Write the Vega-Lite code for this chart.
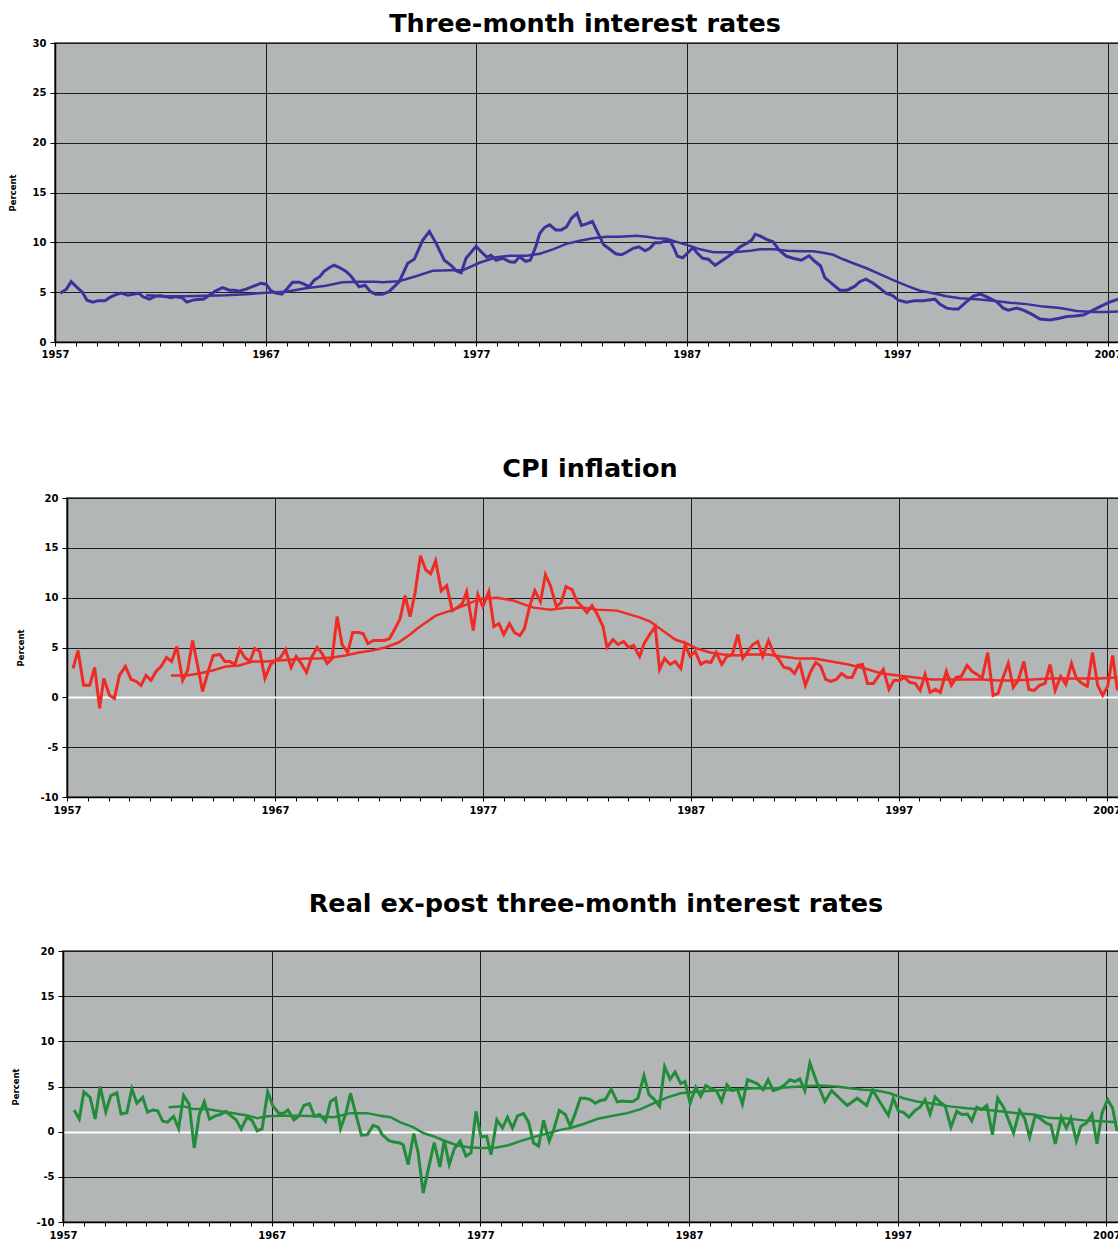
{
  "$schema": "https://vega.github.io/schema/vega-lite/v6.json",
  "background": "white",
  "padding": {"left": 0, "top": 10, "right": 0, "bottom": 0},
  "spacing": 50,
  "config": {
    "view": {"fill": "#b3b6b7", "stroke": "#6e6e6e", "strokeWidth": 2},
    "axis": {
      "labelFont": "DejaVu Sans", "labelFontWeight": "bold", "labelFontSize": 10, "labelColor": "#000",
      "titleFont": "DejaVu Sans", "titleFontWeight": "bold", "titleFontSize": 8.5, "titleColor": "#000",
      "domainColor": "#000", "domainWidth": 1.5, "tickColor": "#000", "tickWidth": 1,
      "gridColor": "#1c1c1c", "gridOpacity": 1, "gridWidth": 1
    },
    "title": {"font": "DejaVu Sans", "fontWeight": "bold", "fontSize": 25.5, "color": "#000", "anchor": "middle", "frame": "group", "baseline": "alphabetic"}
  },
  "datasets": {
    "rate_raw": [
      {"year":1957.25,"value":4.9},{"year":1957.54,"value":5.3},{"year":1957.77,"value":6.05},{"year":1958.01,"value":5.55},{"year":1958.3,"value":5.0},{"year":1958.52,"value":4.2},{"year":1958.8,"value":4.0},{"year":1959.05,"value":4.15},{"year":1959.37,"value":4.15},{"year":1959.59,"value":4.45},{"year":1959.83,"value":4.7},{"year":1960.14,"value":4.9},{"year":1960.46,"value":4.7},{"year":1960.7,"value":4.8},{"year":1960.98,"value":4.9},{"year":1961.17,"value":4.55},{"year":1961.49,"value":4.3},{"year":1961.72,"value":4.55},{"year":1961.96,"value":4.65},{"year":1962.28,"value":4.55},{"year":1962.51,"value":4.45},{"year":1962.75,"value":4.55},{"year":1963.03,"value":4.45},{"year":1963.26,"value":4.0},{"year":1963.54,"value":4.2},{"year":1963.86,"value":4.3},{"year":1964.05,"value":4.3},{"year":1964.33,"value":4.7},{"year":1964.61,"value":5.1},{"year":1964.96,"value":5.45},{"year":1965.28,"value":5.2},{"year":1965.52,"value":5.2},{"year":1965.75,"value":5.1},{"year":1966.07,"value":5.3},{"year":1966.38,"value":5.55},{"year":1966.78,"value":5.9},{"year":1967.02,"value":5.8},{"year":1967.25,"value":5.15},{"year":1967.49,"value":4.9},{"year":1967.77,"value":4.8},{"year":1968.04,"value":5.4},{"year":1968.28,"value":6.0},{"year":1968.6,"value":6.0},{"year":1968.83,"value":5.8},{"year":1969.07,"value":5.55},{"year":1969.31,"value":6.2},{"year":1969.57,"value":6.55},{"year":1969.78,"value":7.1},{"year":1970.02,"value":7.45},{"year":1970.25,"value":7.7},{"year":1970.49,"value":7.5},{"year":1970.81,"value":7.1},{"year":1971.04,"value":6.65},{"year":1971.25,"value":6.05},{"year":1971.44,"value":5.55},{"year":1971.72,"value":5.7},{"year":1971.99,"value":5.05},{"year":1972.23,"value":4.8},{"year":1972.55,"value":4.8},{"year":1972.86,"value":5.05},{"year":1973.18,"value":5.7},{"year":1973.35,"value":6.05},{"year":1973.75,"value":7.9},{"year":1974.06,"value":8.3},{"year":1974.46,"value":10.2},{"year":1974.78,"value":11.1},{"year":1975.1,"value":9.9},{"year":1975.49,"value":8.2},{"year":1975.81,"value":7.7},{"year":1976.05,"value":7.15},{"year":1976.29,"value":6.95},{"year":1976.52,"value":8.4},{"year":1977.0,"value":9.6},{"year":1977.24,"value":9.05},{"year":1977.51,"value":8.5},{"year":1977.71,"value":8.7},{"year":1977.95,"value":8.2},{"year":1978.27,"value":8.4},{"year":1978.59,"value":8.05},{"year":1978.83,"value":8.0},{"year":1979.06,"value":8.55},{"year":1979.35,"value":8.1},{"year":1979.57,"value":8.2},{"year":1979.83,"value":9.55},{"year":1980.02,"value":10.9},{"year":1980.25,"value":11.5},{"year":1980.49,"value":11.75},{"year":1980.78,"value":11.25},{"year":1981.05,"value":11.25},{"year":1981.29,"value":11.55},{"year":1981.52,"value":12.4},{"year":1981.79,"value":12.9},{"year":1982.0,"value":11.7},{"year":1982.24,"value":11.85},{"year":1982.52,"value":12.1},{"year":1982.79,"value":10.9},{"year":1983.06,"value":9.75},{"year":1983.35,"value":9.3},{"year":1983.63,"value":8.85},{"year":1983.9,"value":8.75},{"year":1984.14,"value":9.0},{"year":1984.46,"value":9.4},{"year":1984.73,"value":9.55},{"year":1985.02,"value":9.15},{"year":1985.25,"value":9.4},{"year":1985.49,"value":9.95},{"year":1985.73,"value":9.95},{"year":1986.0,"value":10.15},{"year":1986.24,"value":10.05},{"year":1986.4,"value":9.4},{"year":1986.56,"value":8.6},{"year":1986.81,"value":8.45},{"year":1987.03,"value":8.9},{"year":1987.29,"value":9.45},{"year":1987.51,"value":8.9},{"year":1987.76,"value":8.4},{"year":1988.03,"value":8.3},{"year":1988.35,"value":7.7},{"year":1988.67,"value":8.15},{"year":1988.98,"value":8.6},{"year":1989.3,"value":9.1},{"year":1989.54,"value":9.55},{"year":1989.86,"value":9.9},{"year":1990.1,"value":10.25},{"year":1990.25,"value":10.8},{"year":1990.47,"value":10.65},{"year":1990.79,"value":10.3},{"year":1991.1,"value":10.05},{"year":1991.42,"value":9.15},{"year":1991.74,"value":8.6},{"year":1992.05,"value":8.4},{"year":1992.45,"value":8.2},{"year":1992.81,"value":8.65},{"year":1993.08,"value":8.1},{"year":1993.35,"value":7.65},{"year":1993.56,"value":6.45},{"year":1993.87,"value":5.9},{"year":1994.27,"value":5.2},{"year":1994.62,"value":5.2},{"year":1994.99,"value":5.6},{"year":1995.22,"value":6.05},{"year":1995.51,"value":6.3},{"year":1995.86,"value":5.9},{"year":1996.17,"value":5.4},{"year":1996.46,"value":4.9},{"year":1996.78,"value":4.65},{"year":1997.05,"value":4.2},{"year":1997.44,"value":4.0},{"year":1997.84,"value":4.15},{"year":1998.23,"value":4.15},{"year":1998.79,"value":4.3},{"year":1999.02,"value":3.8},{"year":1999.34,"value":3.4},{"year":1999.66,"value":3.3},{"year":1999.9,"value":3.3},{"year":2000.21,"value":3.9},{"year":2000.61,"value":4.6},{"year":2000.96,"value":4.8},{"year":2001.32,"value":4.45},{"year":2001.72,"value":4.05},{"year":2002.03,"value":3.4},{"year":2002.27,"value":3.2},{"year":2002.67,"value":3.4},{"year":2002.99,"value":3.2},{"year":2003.38,"value":2.8},{"year":2003.78,"value":2.3},{"year":2004.25,"value":2.2},{"year":2004.65,"value":2.35},{"year":2005.05,"value":2.55},{"year":2005.44,"value":2.6},{"year":2005.84,"value":2.7},{"year":2006.16,"value":3.05},{"year":2006.63,"value":3.55},{"year":2007.03,"value":3.95},{"year":2007.49,"value":4.3},{"year":2007.75,"value":4.6}
    ],
    "rate_trend": [
      {"year":1961.33,"value":4.7},{"year":1962.28,"value":4.6},{"year":1963.22,"value":4.6},{"year":1964.17,"value":4.65},{"year":1965.12,"value":4.7},{"year":1966.07,"value":4.8},{"year":1967.02,"value":4.95},{"year":1967.96,"value":5.05},{"year":1968.91,"value":5.4},{"year":1969.86,"value":5.65},{"year":1970.65,"value":6.0},{"year":1971.44,"value":6.05},{"year":1972.23,"value":6.05},{"year":1972.55,"value":6.0},{"year":1973.34,"value":6.1},{"year":1974.14,"value":6.6},{"year":1974.94,"value":7.15},{"year":1975.73,"value":7.2},{"year":1976.37,"value":7.2},{"year":1977.16,"value":7.95},{"year":1977.95,"value":8.5},{"year":1978.59,"value":8.65},{"year":1979.38,"value":8.65},{"year":1980.02,"value":8.85},{"year":1980.65,"value":9.3},{"year":1981.29,"value":9.85},{"year":1981.92,"value":10.15},{"year":1982.56,"value":10.4},{"year":1983.19,"value":10.55},{"year":1983.83,"value":10.55},{"year":1984.62,"value":10.65},{"year":1985.1,"value":10.55},{"year":1985.57,"value":10.4},{"year":1986.05,"value":10.35},{"year":1986.52,"value":10.05},{"year":1987.0,"value":9.75},{"year":1987.63,"value":9.3},{"year":1988.27,"value":9.0},{"year":1989.22,"value":9.0},{"year":1990.02,"value":9.15},{"year":1990.49,"value":9.3},{"year":1991.13,"value":9.3},{"year":1991.76,"value":9.15},{"year":1992.4,"value":9.1},{"year":1993.01,"value":9.1},{"year":1993.48,"value":8.95},{"year":1993.96,"value":8.75},{"year":1994.43,"value":8.3},{"year":1994.91,"value":7.9},{"year":1995.54,"value":7.4},{"year":1996.17,"value":6.8},{"year":1996.81,"value":6.2},{"year":1997.44,"value":5.65},{"year":1998.08,"value":5.15},{"year":1998.71,"value":4.9},{"year":1999.34,"value":4.6},{"year":1999.98,"value":4.4},{"year":2000.77,"value":4.3},{"year":2001.56,"value":4.15},{"year":2002.35,"value":3.95},{"year":2003.15,"value":3.8},{"year":2003.94,"value":3.55},{"year":2004.73,"value":3.4},{"year":2005.52,"value":3.1},{"year":2006.31,"value":3.0},{"year":2006.95,"value":3.0},{"year":2007.49,"value":3.05},{"year":2007.75,"value":3.05}
    ],
    "cpi_raw": [
      {"year":1957.29,"value":2.9},{"year":1957.53,"value":4.7},{"year":1957.8,"value":1.2},{"year":1958.09,"value":1.2},{"year":1958.33,"value":3.0},{"year":1958.57,"value":-1.1},{"year":1958.77,"value":1.9},{"year":1959.04,"value":0.2},{"year":1959.28,"value":-0.1},{"year":1959.52,"value":2.2},{"year":1959.81,"value":3.1},{"year":1960.08,"value":1.8},{"year":1960.32,"value":1.6},{"year":1960.56,"value":1.2},{"year":1960.8,"value":2.2},{"year":1961.04,"value":1.7},{"year":1961.28,"value":2.6},{"year":1961.52,"value":3.1},{"year":1961.79,"value":4.0},{"year":1962.03,"value":3.6},{"year":1962.28,"value":5.1},{"year":1962.56,"value":1.7},{"year":1962.8,"value":2.7},{"year":1963.04,"value":5.7},{"year":1963.28,"value":3.2},{"year":1963.52,"value":0.6},{"year":1963.79,"value":2.6},{"year":1964.03,"value":4.2},{"year":1964.35,"value":4.3},{"year":1964.59,"value":3.6},{"year":1964.83,"value":3.6},{"year":1965.07,"value":3.3},{"year":1965.31,"value":4.8},{"year":1965.55,"value":4.0},{"year":1965.79,"value":3.6},{"year":1966.03,"value":4.9},{"year":1966.27,"value":4.6},{"year":1966.52,"value":1.9},{"year":1966.79,"value":3.3},{"year":1967.03,"value":3.7},{"year":1967.27,"value":4.0},{"year":1967.51,"value":4.8},{"year":1967.78,"value":3.0},{"year":1968.02,"value":4.1},{"year":1968.26,"value":3.4},{"year":1968.52,"value":2.5},{"year":1968.76,"value":4.0},{"year":1969.03,"value":5.0},{"year":1969.27,"value":4.4},{"year":1969.51,"value":3.4},{"year":1969.75,"value":3.9},{"year":1969.99,"value":8.1},{"year":1970.23,"value":5.3},{"year":1970.5,"value":4.5},{"year":1970.74,"value":6.5},{"year":1971.0,"value":6.5},{"year":1971.24,"value":6.4},{"year":1971.47,"value":5.4},{"year":1971.74,"value":5.7},{"year":1971.98,"value":5.7},{"year":1972.26,"value":5.7},{"year":1972.51,"value":5.9},{"year":1972.78,"value":6.9},{"year":1973.02,"value":7.9},{"year":1973.26,"value":10.2},{"year":1973.5,"value":8.1},{"year":1973.74,"value":10.5},{"year":1974.0,"value":14.2},{"year":1974.25,"value":12.8},{"year":1974.49,"value":12.4},{"year":1974.73,"value":13.7},{"year":1975.0,"value":10.7},{"year":1975.26,"value":11.2},{"year":1975.53,"value":8.7},{"year":1975.77,"value":9.0},{"year":1976.01,"value":9.4},{"year":1976.22,"value":10.6},{"year":1976.54,"value":6.7},{"year":1976.76,"value":10.3},{"year":1977.0,"value":9.1},{"year":1977.29,"value":10.6},{"year":1977.53,"value":7.1},{"year":1977.77,"value":7.4},{"year":1978.01,"value":6.3},{"year":1978.28,"value":7.4},{"year":1978.52,"value":6.5},{"year":1978.78,"value":6.2},{"year":1979.0,"value":6.9},{"year":1979.26,"value":9.2},{"year":1979.5,"value":10.7},{"year":1979.77,"value":9.6},{"year":1980.01,"value":12.3},{"year":1980.25,"value":11.2},{"year":1980.54,"value":9.1},{"year":1980.76,"value":9.5},{"year":1981.0,"value":11.1},{"year":1981.29,"value":10.8},{"year":1981.53,"value":9.6},{"year":1981.77,"value":9.1},{"year":1982.0,"value":8.5},{"year":1982.25,"value":9.2},{"year":1982.49,"value":8.4},{"year":1982.78,"value":7.1},{"year":1982.97,"value":5.0},{"year":1983.26,"value":5.8},{"year":1983.5,"value":5.3},{"year":1983.77,"value":5.6},{"year":1984.01,"value":5.0},{"year":1984.25,"value":5.2},{"year":1984.54,"value":4.1},{"year":1984.76,"value":5.4},{"year":1985.02,"value":6.3},{"year":1985.29,"value":7.1},{"year":1985.5,"value":2.8},{"year":1985.74,"value":3.9},{"year":1986.01,"value":3.3},{"year":1986.25,"value":3.6},{"year":1986.52,"value":2.9},{"year":1986.73,"value":5.3},{"year":1986.97,"value":4.1},{"year":1987.21,"value":4.6},{"year":1987.48,"value":3.3},{"year":1987.72,"value":3.6},{"year":1987.96,"value":3.5},{"year":1988.22,"value":4.5},{"year":1988.49,"value":3.3},{"year":1988.73,"value":4.1},{"year":1989.0,"value":4.3},{"year":1989.26,"value":6.3},{"year":1989.5,"value":3.9},{"year":1989.74,"value":4.6},{"year":1989.98,"value":5.3},{"year":1990.22,"value":5.6},{"year":1990.46,"value":4.1},{"year":1990.74,"value":5.7},{"year":1991.0,"value":4.4},{"year":1991.24,"value":3.8},{"year":1991.48,"value":3.0},{"year":1991.75,"value":2.9},{"year":1991.99,"value":2.4},{"year":1992.24,"value":3.4},{"year":1992.51,"value":1.2},{"year":1992.77,"value":2.6},{"year":1993.01,"value":3.5},{"year":1993.25,"value":3.1},{"year":1993.49,"value":1.8},{"year":1993.73,"value":1.6},{"year":1994.0,"value":1.8},{"year":1994.25,"value":2.4},{"year":1994.52,"value":2.0},{"year":1994.76,"value":2.0},{"year":1995.02,"value":3.2},{"year":1995.26,"value":3.3},{"year":1995.5,"value":1.4},{"year":1995.78,"value":1.4},{"year":1996.02,"value":2.1},{"year":1996.26,"value":2.8},{"year":1996.53,"value":0.8},{"year":1996.77,"value":1.7},{"year":1997.03,"value":1.7},{"year":1997.27,"value":2.0},{"year":1997.53,"value":1.5},{"year":1997.79,"value":1.4},{"year":1998.03,"value":0.7},{"year":1998.27,"value":2.3},{"year":1998.51,"value":0.5},{"year":1998.76,"value":0.8},{"year":1999.0,"value":0.5},{"year":1999.29,"value":2.6},{"year":1999.53,"value":1.2},{"year":1999.77,"value":2.0},{"year":2000.01,"value":2.1},{"year":2000.29,"value":3.2},{"year":2000.53,"value":2.6},{"year":2000.77,"value":2.3},{"year":2001.01,"value":1.9},{"year":2001.28,"value":4.5},{"year":2001.54,"value":0.2},{"year":2001.78,"value":0.4},{"year":2002.02,"value":2.0},{"year":2002.27,"value":3.4},{"year":2002.51,"value":1.0},{"year":2002.75,"value":1.7},{"year":2003.02,"value":3.6},{"year":2003.26,"value":0.8},{"year":2003.51,"value":0.7},{"year":2003.78,"value":1.2},{"year":2004.04,"value":1.4},{"year":2004.28,"value":3.3},{"year":2004.52,"value":0.7},{"year":2004.79,"value":2.1},{"year":2005.04,"value":1.3},{"year":2005.31,"value":3.4},{"year":2005.55,"value":1.9},{"year":2005.81,"value":1.4},{"year":2006.07,"value":1.1},{"year":2006.32,"value":4.5},{"year":2006.57,"value":1.2},{"year":2006.81,"value":0.2},{"year":2007.05,"value":1.1},{"year":2007.29,"value":4.2},{"year":2007.52,"value":0.7}
    ],
    "cpi_trend": [
      {"year":1962.0,"value":2.2},{"year":1962.72,"value":2.2},{"year":1963.36,"value":2.4},{"year":1964.0,"value":2.7},{"year":1964.64,"value":3.1},{"year":1965.27,"value":3.2},{"year":1965.91,"value":3.6},{"year":1966.55,"value":3.6},{"year":1967.19,"value":3.7},{"year":1967.83,"value":3.8},{"year":1968.47,"value":3.9},{"year":1969.1,"value":3.9},{"year":1969.75,"value":4.0},{"year":1970.39,"value":4.2},{"year":1971.03,"value":4.5},{"year":1971.66,"value":4.7},{"year":1972.3,"value":5.0},{"year":1972.94,"value":5.5},{"year":1973.5,"value":6.3},{"year":1973.85,"value":6.9},{"year":1974.73,"value":8.2},{"year":1975.45,"value":8.7},{"year":1976.09,"value":9.2},{"year":1976.89,"value":9.9},{"year":1977.69,"value":10.0},{"year":1978.49,"value":9.7},{"year":1979.0,"value":9.3},{"year":1979.45,"value":9.0},{"year":1980.25,"value":8.8},{"year":1981.05,"value":9.0},{"year":1981.85,"value":9.0},{"year":1982.49,"value":8.8},{"year":1983.45,"value":8.7},{"year":1984.09,"value":8.3},{"year":1984.57,"value":8.0},{"year":1985.05,"value":7.6},{"year":1985.37,"value":7.1},{"year":1985.85,"value":6.4},{"year":1986.25,"value":5.8},{"year":1986.81,"value":5.4},{"year":1987.29,"value":4.9},{"year":1987.93,"value":4.5},{"year":1988.57,"value":4.3},{"year":1989.21,"value":4.2},{"year":1989.85,"value":4.3},{"year":1990.71,"value":4.3},{"year":1991.35,"value":4.1},{"year":1992.15,"value":3.9},{"year":1992.96,"value":3.9},{"year":1993.76,"value":3.6},{"year":1994.57,"value":3.3},{"year":1995.37,"value":2.9},{"year":1996.18,"value":2.4},{"year":1996.98,"value":2.2},{"year":1997.79,"value":2.0},{"year":1998.59,"value":1.8},{"year":1999.4,"value":1.8},{"year":2000.2,"value":1.8},{"year":2001.01,"value":1.8},{"year":2001.81,"value":1.7},{"year":2002.62,"value":1.7},{"year":2003.42,"value":1.8},{"year":2004.23,"value":1.9},{"year":2005.04,"value":1.9},{"year":2005.84,"value":1.9},{"year":2006.65,"value":1.9},{"year":2007.52,"value":2.0}
    ],
    "real_raw": [
      {"year":1957.53,"value":2.4},{"year":1957.78,"value":1.4},{"year":1958.0,"value":4.4},{"year":1958.3,"value":3.8},{"year":1958.54,"value":1.4},{"year":1958.78,"value":5.0},{"year":1959.05,"value":2.2},{"year":1959.29,"value":4.0},{"year":1959.58,"value":4.3},{"year":1959.78,"value":1.95},{"year":1960.06,"value":2.1},{"year":1960.3,"value":4.75},{"year":1960.54,"value":3.15},{"year":1960.82,"value":3.8},{"year":1961.05,"value":2.15},{"year":1961.3,"value":2.4},{"year":1961.54,"value":2.3},{"year":1961.78,"value":1.15},{"year":1962.02,"value":1.05},{"year":1962.3,"value":1.7},{"year":1962.54,"value":0.35},{"year":1962.78,"value":4.0},{"year":1963.05,"value":3.0},{"year":1963.29,"value":-1.8},{"year":1963.53,"value":1.9},{"year":1963.77,"value":3.3},{"year":1964.02,"value":1.4},{"year":1964.3,"value":1.75},{"year":1964.54,"value":1.9},{"year":1964.8,"value":2.25},{"year":1965.05,"value":1.75},{"year":1965.3,"value":1.3},{"year":1965.54,"value":0.3},{"year":1965.82,"value":1.6},{"year":1966.06,"value":1.25},{"year":1966.3,"value":0.1},{"year":1966.54,"value":0.3},{"year":1966.81,"value":4.4},{"year":1967.06,"value":2.85},{"year":1967.34,"value":2.05},{"year":1967.58,"value":2.05},{"year":1967.78,"value":2.4},{"year":1968.06,"value":1.3},{"year":1968.3,"value":1.7},{"year":1968.54,"value":2.9},{"year":1968.81,"value":3.1},{"year":1969.05,"value":1.7},{"year":1969.3,"value":1.9},{"year":1969.58,"value":1.15},{"year":1969.82,"value":3.35},{"year":1970.06,"value":3.7},{"year":1970.3,"value":0.35},{"year":1970.54,"value":1.9},{"year":1970.78,"value":4.25},{"year":1971.02,"value":2.05},{"year":1971.3,"value":-0.4},{"year":1971.58,"value":-0.35},{"year":1971.86,"value":0.7},{"year":1972.1,"value":0.5},{"year":1972.3,"value":-0.35},{"year":1972.62,"value":-1.0},{"year":1972.86,"value":-1.15},{"year":1973.14,"value":-1.25},{"year":1973.3,"value":-1.45},{"year":1973.54,"value":-3.65},{"year":1973.81,"value":-0.2},{"year":1974.02,"value":-2.35},{"year":1974.26,"value":-6.8},{"year":1974.5,"value":-4.2},{"year":1974.79,"value":-1.2},{"year":1975.06,"value":-3.9},{"year":1975.27,"value":-0.95},{"year":1975.51,"value":-3.65},{"year":1975.75,"value":-1.9},{"year":1976.03,"value":-1.05},{"year":1976.31,"value":-2.7},{"year":1976.55,"value":-2.35},{"year":1976.79,"value":2.25},{"year":1977.03,"value":-0.6},{"year":1977.3,"value":-0.5},{"year":1977.51,"value":-2.55},{"year":1977.79,"value":1.3},{"year":1978.06,"value":0.4},{"year":1978.3,"value":1.6},{"year":1978.54,"value":0.4},{"year":1978.78,"value":1.75},{"year":1979.07,"value":2.0},{"year":1979.31,"value":1.05},{"year":1979.55,"value":-1.25},{"year":1979.79,"value":-1.6},{"year":1980.03,"value":1.25},{"year":1980.3,"value":-1.05},{"year":1980.54,"value":0.4},{"year":1980.78,"value":2.35},{"year":1981.07,"value":1.9},{"year":1981.31,"value":0.6},{"year":1981.55,"value":2.05},{"year":1981.79,"value":3.7},{"year":1982.03,"value":3.7},{"year":1982.27,"value":3.55},{"year":1982.51,"value":3.15},{"year":1982.75,"value":3.45},{"year":1982.99,"value":3.55},{"year":1983.27,"value":4.7},{"year":1983.56,"value":3.3},{"year":1983.79,"value":3.4},{"year":1984.04,"value":3.35},{"year":1984.31,"value":3.35},{"year":1984.55,"value":3.7},{"year":1984.84,"value":6.2},{"year":1985.08,"value":4.1},{"year":1985.32,"value":3.6},{"year":1985.59,"value":2.8},{"year":1985.83,"value":7.2},{"year":1986.09,"value":5.8},{"year":1986.33,"value":6.6},{"year":1986.6,"value":5.35},{"year":1986.81,"value":5.55},{"year":1987.05,"value":3.15},{"year":1987.32,"value":4.9},{"year":1987.56,"value":3.9},{"year":1987.8,"value":5.1},{"year":1988.04,"value":4.8},{"year":1988.31,"value":4.55},{"year":1988.56,"value":3.35},{"year":1988.81,"value":5.2},{"year":1989.05,"value":4.55},{"year":1989.32,"value":4.7},{"year":1989.56,"value":3.05},{"year":1989.8,"value":5.75},{"year":1990.04,"value":5.55},{"year":1990.28,"value":5.3},{"year":1990.55,"value":4.65},{"year":1990.79,"value":5.75},{"year":1991.03,"value":4.55},{"year":1991.35,"value":4.8},{"year":1991.59,"value":5.2},{"year":1991.83,"value":5.75},{"year":1992.07,"value":5.55},{"year":1992.31,"value":5.85},{"year":1992.55,"value":4.55},{"year":1992.79,"value":7.6},{"year":1993.11,"value":5.55},{"year":1993.51,"value":3.35},{"year":1993.83,"value":4.55},{"year":1994.23,"value":3.65},{"year":1994.58,"value":2.9},{"year":1995.06,"value":3.7},{"year":1995.51,"value":2.9},{"year":1995.8,"value":4.65},{"year":1996.15,"value":3.25},{"year":1996.55,"value":1.8},{"year":1996.79,"value":3.7},{"year":1997.03,"value":2.3},{"year":1997.27,"value":2.15},{"year":1997.54,"value":1.6},{"year":1997.83,"value":2.35},{"year":1998.07,"value":2.7},{"year":1998.31,"value":3.55},{"year":1998.55,"value":1.95},{"year":1998.79,"value":3.85},{"year":1999.03,"value":3.25},{"year":1999.27,"value":2.85},{"year":1999.55,"value":0.5},{"year":1999.83,"value":2.25},{"year":2000.07,"value":1.9},{"year":2000.34,"value":1.95},{"year":2000.55,"value":1.2},{"year":2000.79,"value":2.7},{"year":2001.03,"value":2.45},{"year":2001.27,"value":2.9},{"year":2001.54,"value":-0.35},{"year":2001.79,"value":3.7},{"year":2002.07,"value":2.7},{"year":2002.31,"value":1.3},{"year":2002.55,"value":-0.15},{"year":2002.84,"value":2.35},{"year":2003.08,"value":1.5},{"year":2003.32,"value":-0.6},{"year":2003.59,"value":1.8},{"year":2003.86,"value":1.4},{"year":2004.12,"value":0.95},{"year":2004.34,"value":0.75},{"year":2004.55,"value":-1.35},{"year":2004.84,"value":1.6},{"year":2005.08,"value":0.4},{"year":2005.3,"value":1.5},{"year":2005.56,"value":-1.05},{"year":2005.78,"value":0.6},{"year":2006.04,"value":0.95},{"year":2006.31,"value":1.9},{"year":2006.55,"value":-1.35},{"year":2006.79,"value":2.05},{"year":2007.06,"value":3.55},{"year":2007.3,"value":2.6},{"year":2007.51,"value":0.05}
    ],
    "real_trend": [
      {"year":1962.06,"value":2.7},{"year":1962.78,"value":2.8},{"year":1963.26,"value":2.5},{"year":1963.9,"value":2.5},{"year":1964.54,"value":2.25},{"year":1965.18,"value":2.05},{"year":1965.82,"value":1.8},{"year":1966.3,"value":1.5},{"year":1966.78,"value":1.7},{"year":1967.42,"value":1.75},{"year":1968.38,"value":1.75},{"year":1969.18,"value":1.7},{"year":1969.98,"value":1.6},{"year":1970.78,"value":2.05},{"year":1971.58,"value":2.05},{"year":1972.22,"value":1.75},{"year":1972.7,"value":1.6},{"year":1973.14,"value":1.05},{"year":1973.78,"value":0.5},{"year":1974.26,"value":-0.15},{"year":1974.74,"value":-0.5},{"year":1975.22,"value":-0.95},{"year":1975.86,"value":-1.5},{"year":1976.5,"value":-1.75},{"year":1977.14,"value":-1.8},{"year":1977.79,"value":-1.75},{"year":1978.35,"value":-1.5},{"year":1978.91,"value":-1.05},{"year":1979.55,"value":-0.6},{"year":1980.19,"value":-0.2},{"year":1980.83,"value":0.2},{"year":1981.31,"value":0.4},{"year":1981.95,"value":0.85},{"year":1982.59,"value":1.4},{"year":1983.23,"value":1.7},{"year":1984.04,"value":2.05},{"year":1984.68,"value":2.5},{"year":1985.32,"value":3.15},{"year":1985.96,"value":3.8},{"year":1986.6,"value":4.25},{"year":1987.24,"value":4.4},{"year":1988.2,"value":4.55},{"year":1989.16,"value":4.65},{"year":1990.12,"value":4.8},{"year":1991.09,"value":4.8},{"year":1992.31,"value":5.0},{"year":1993.27,"value":5.1},{"year":1994.07,"value":5.0},{"year":1994.71,"value":4.8},{"year":1995.35,"value":4.65},{"year":1995.99,"value":4.55},{"year":1996.63,"value":4.25},{"year":1997.27,"value":3.7},{"year":1997.91,"value":3.35},{"year":1998.71,"value":3.1},{"year":1999.51,"value":2.8},{"year":2000.31,"value":2.6},{"year":2001.11,"value":2.45},{"year":2001.91,"value":2.25},{"year":2002.71,"value":2.05},{"year":2003.51,"value":1.9},{"year":2004.31,"value":1.5},{"year":2005.11,"value":1.45},{"year":2005.91,"value":1.25},{"year":2006.71,"value":1.15},{"year":2007.51,"value":1.05}
    ]
  },
  "vconcat": [
    {
      "spacing": 0,
      "hconcat": [
        {"width": 7, "height": 1, "view": {"fill": null, "stroke": null}, "data": {"values": []}, "mark": "point", "encoding": {}},
        {
          "width": 1116, "height": 299,
          "title": {"text": "Three-month interest rates", "offset": 1, "dx": -28},
          "encoding": {
            "x": {"field": "year", "type": "quantitative", "scale": {"domain": [1957, 2010], "nice": false, "zero": false},
              "axis": {"title": null, "values": [1957,1958,1959,1960,1961,1962,1963,1964,1965,1966,1967,1968,1969,1970,1971,1972,1973,1974,1975,1976,1977,1978,1979,1980,1981,1982,1983,1984,1985,1986,1987,1988,1989,1990,1991,1992,1993,1994,1995,1996,1997,1998,1999,2000,2001,2002,2003,2004,2005,2006,2007,2008,2009,2010],
                "format": "d", "labelExpr": "(datum.value - 1957) % 10 === 0 ? datum.label : ''", "labelOverlap": false, "labelFlush": false, "labelBound": false,
                "tickSize": 4, "labelPadding": 3, "minExtent": 62,
                "gridOpacity": {"condition": {"test": "(datum.value - 1957) % 10 === 0 && datum.value > 1957", "value": 1}, "value": 0}}},
            "y": {"field": "value", "type": "quantitative", "scale": {"domain": [0, 30], "nice": false, "zero": false},
              "axis": {"title": "Percent", "values": [0,5,10,15,20,25,30], "tickSize": 5, "labelPadding": 4, "minExtent": 33.2, "titlePadding": 4}}
          },
          "layer": [
            {"data": {"name": "rate_raw"}, "mark": {"type": "line", "color": "#3f319b", "strokeWidth": 3}},
            {"data": {"name": "rate_trend"}, "mark": {"type": "line", "color": "#3f319b", "strokeWidth": 2.5}}
          ]
        }
      ]
    },
    {
      "spacing": 0,
      "hconcat": [
        {"width": 14.7, "height": 1, "view": {"fill": null, "stroke": null}, "data": {"values": []}, "mark": "point", "encoding": {}},
        {
          "width": 1102, "height": 299,
          "title": {"text": "CPI inflation", "offset": 11, "dx": -28},
          "encoding": {
            "x": {"field": "year", "type": "quantitative", "scale": {"domain": [1957, 2010], "nice": false, "zero": false},
              "axis": {"title": null, "values": [1957,1958,1959,1960,1961,1962,1963,1964,1965,1966,1967,1968,1969,1970,1971,1972,1973,1974,1975,1976,1977,1978,1979,1980,1981,1982,1983,1984,1985,1986,1987,1988,1989,1990,1991,1992,1993,1994,1995,1996,1997,1998,1999,2000,2001,2002,2003,2004,2005,2006,2007,2008,2009,2010],
                "format": "d", "labelExpr": "(datum.value - 1957) % 10 === 0 ? datum.label : ''", "labelOverlap": false, "labelFlush": false, "labelBound": false,
                "tickSize": 4, "labelPadding": 4, "minExtent": 42,
                "gridOpacity": {"condition": {"test": "(datum.value - 1957) % 10 === 0 && datum.value > 1957", "value": 1}, "value": 0}}},
            "y": {"field": "value", "type": "quantitative", "scale": {"domain": [-10, 20], "nice": false, "zero": false},
              "axis": {"title": "Percent", "values": [-10,-5,0,5,10,15,20], "labelExpr": "datum.value < 0 ? '-' + abs(datum.value) : datum.label", "tickSize": 5, "labelPadding": 4, "minExtent": 37.8, "titlePadding": 4,
                "gridColor": {"condition": {"test": "datum.value === 0", "value": "#ffffff"}, "value": "#1c1c1c"},
                "gridWidth": {"condition": {"test": "datum.value === 0", "value": 2}, "value": 1}}}
          },
          "layer": [
            {"data": {"name": "cpi_raw"}, "mark": {"type": "line", "color": "#ee2b24", "strokeWidth": 3}},
            {"data": {"name": "cpi_trend"}, "mark": {"type": "line", "color": "#ee2b24", "strokeWidth": 2.5}}
          ]
        }
      ]
    },
    {
      "spacing": 0,
      "hconcat": [
        {"width": 10, "height": 1, "view": {"fill": null, "stroke": null}, "data": {"values": []}, "mark": "point", "encoding": {}},
        {
          "width": 1106, "height": 271,
          "title": {"text": "Real ex-post three-month interest rates", "offset": 29, "dx": -20},
          "encoding": {
            "x": {"field": "year", "type": "quantitative", "scale": {"domain": [1957, 2010], "nice": false, "zero": false},
              "axis": {"title": null, "values": [1957,1958,1959,1960,1961,1962,1963,1964,1965,1966,1967,1968,1969,1970,1971,1972,1973,1974,1975,1976,1977,1978,1979,1980,1981,1982,1983,1984,1985,1986,1987,1988,1989,1990,1991,1992,1993,1994,1995,1996,1997,1998,1999,2000,2001,2002,2003,2004,2005,2006,2007,2008,2009,2010],
                "format": "d", "labelExpr": "(datum.value - 1957) % 10 === 0 ? datum.label : ''", "labelOverlap": false, "labelFlush": false, "labelBound": false,
                "tickSize": 4, "labelPadding": 4,
                "gridOpacity": {"condition": {"test": "(datum.value - 1957) % 10 === 0 && datum.value > 1957", "value": 1}, "value": 0}}},
            "y": {"field": "value", "type": "quantitative", "scale": {"domain": [-10, 20], "nice": false, "zero": false},
              "axis": {"title": "Percent", "values": [-10,-5,0,5,10,15,20], "labelExpr": "datum.value < 0 ? '-' + abs(datum.value) : datum.label", "tickSize": 5, "labelPadding": 4, "minExtent": 38.5, "titlePadding": 4,
                "gridColor": {"condition": {"test": "datum.value === 0", "value": "#ffffff"}, "value": "#1c1c1c"},
                "gridWidth": {"condition": {"test": "datum.value === 0", "value": 2}, "value": 1}}}
          },
          "layer": [
            {"data": {"name": "real_raw"}, "mark": {"type": "line", "color": "#238c3a", "strokeWidth": 3}},
            {"data": {"name": "real_trend"}, "mark": {"type": "line", "color": "#238c3a", "strokeWidth": 2.5}}
          ]
        }
      ]
    }
  ]
}
